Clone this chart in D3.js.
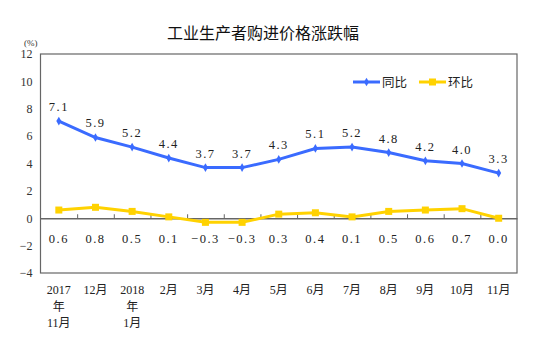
<!DOCTYPE html>
<html><head><meta charset="utf-8">
<script src="https://cdn.jsdelivr.net/npm/d3@7"></script>
<style>
body{margin:0;background:#fff;}
text{font-family:"Liberation Serif","Noto Sans CJK SC",serif;}
</style></head>
<body><svg id="c" width="549" height="338"></svg>
<script>
const categories = ["2017年11月","12月","2018年1月","2月","3月","4月","5月","6月","7月","8月","9月","10月","11月"];
const yoy = [7.1,5.9,5.2,4.4,3.7,3.7,4.3,5.1,5.2,4.8,4.2,4.0,3.3];
const mom = [0.6,0.8,0.5,0.1,-0.3,-0.3,0.3,0.4,0.1,0.5,0.6,0.7,0.0];
const yTicks = [-4,-2,0,2,4,6,8,10,12];
const title = "工业生产者购进价格涨跌幅";
const seriesNames = ["同比","环比"];

const svg = d3.select("#c");
const L=40.5, R=517, T=54, B=273;
const x = d3.scaleBand().domain(categories).range([L,R]);
const y = d3.scaleLinear().domain([-4,12]).range([B,T]);
const cx = d => x(d)+x.bandwidth()/2;
const blue="#3a6bff", yellow="#ffd200";

// frame
svg.append("rect").attr("x",L).attr("y",T).attr("width",R-L).attr("height",B-T)
  .attr("fill","none").attr("stroke","#666").attr("stroke-width",1.2);

// y axis
const ya = svg.append("g").attr("transform",`translate(${L},0)`)
  .call(d3.axisLeft(y).tickValues(yTicks).tickSize(0).tickPadding(8).tickFormat(d3.format("d")));
ya.select(".domain").remove();
ya.selectAll("text").attr("font-size",12).attr("fill","#333")
  .style("font-family",'"Liberation Serif",serif');

// zero axis with upward ticks at band boundaries
const xa = svg.append("g").attr("transform",`translate(0,${y(0)})`)
  .call(d3.axisTop(d3.scaleLinear().domain([0,categories.length]).range([L,R]))
    .tickValues(d3.range(1,categories.length)).tickSize(4).tickSizeOuter(0).tickFormat(""));
xa.select(".domain").attr("stroke","#666").attr("stroke-width",1.5);
xa.selectAll("line").attr("stroke","#666");

// x labels
categories.forEach(c=>{
  const m = c.match(/^(\d{4})年(.*)$/);
  const lines = m ? [m[1],"年",m[2]] : [c];
  const t = svg.append("text").attr("x",cx(c)).attr("text-anchor","middle")
    .attr("font-size",12).attr("fill","#222");
  lines.forEach((ln,i)=>t.append("tspan").attr("x",cx(c)).attr("y",294+i*16.5).text(ln));
});

// title
svg.append("text").attr("x",263).attr("y",39).attr("text-anchor","middle")
  .attr("font-size",16).attr("fill","#111").style("font-family",'"Noto Sans CJK SC",sans-serif').text(title);
svg.append("text").attr("x",24).attr("y",46).attr("font-size",9).attr("fill","#333").text("(%)");

// lines
const line = d3.line().x((d,i)=>cx(categories[i])).y(d=>y(d));
svg.append("path").datum(mom).attr("d",line).attr("fill","none").attr("stroke",yellow).attr("stroke-width",3);
svg.selectAll(".mm").data(mom).enter().append("rect")
  .attr("x",(d,i)=>cx(categories[i])-3.5).attr("y",d=>y(d)-3.5).attr("width",7).attr("height",7).attr("fill",yellow);
svg.append("path").datum(yoy).attr("d",line).attr("fill","none").attr("stroke",blue).attr("stroke-width",3);
svg.selectAll(".ym").data(yoy).enter().append("path")
  .attr("transform",(d,i)=>`translate(${cx(categories[i])},${y(d)})`)
  .attr("d",d3.symbol(d3.symbolDiamond,22)).attr("fill",blue);

// data labels
const fmt = d3.format(".1f");
svg.selectAll(".yl").data(yoy).enter().append("text")
  .attr("x",(d,i)=>cx(categories[i])).attr("y",d=>y(d)-10).attr("text-anchor","middle")
  .attr("font-size",12.5).attr("letter-spacing",1.5).attr("fill","#222").text(d=>fmt(d));
svg.selectAll(".ml").data(mom).enter().append("text")
  .attr("x",(d,i)=>cx(categories[i])).attr("y",243).attr("text-anchor","middle")
  .attr("font-size",12.5).attr("letter-spacing",1.5).attr("fill","#222").text(d=>fmt(d));

// legend
const lg = [{n:seriesNames[0],c:blue,x:353},{n:seriesNames[1],c:yellow,x:419}];
lg.forEach((g,i)=>{
  svg.append("line").attr("x1",g.x).attr("x2",g.x+27).attr("y1",82).attr("y2",82).attr("stroke",g.c).attr("stroke-width",3);
  if(i===0) svg.append("path").attr("transform",`translate(${g.x+13.5},82)`).attr("d",d3.symbol(d3.symbolDiamond,22)).attr("fill",g.c);
  else svg.append("rect").attr("x",g.x+10).attr("y",78.5).attr("width",7).attr("height",7).attr("fill",g.c);
  svg.append("text").attr("x",g.x+29).attr("y",86.5).attr("font-size",12.5).attr("fill","#222")
    .style("font-family",'"Noto Sans CJK SC",sans-serif').text(g.n);
});
</script></body></html>
